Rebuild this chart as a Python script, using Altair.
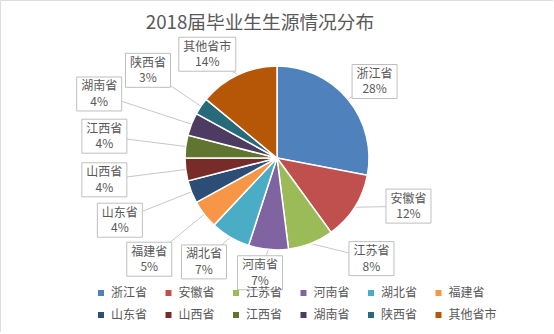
import math
import altair as alt
import pandas as pd

# ---- data ----
provinces = ["浙江省", "安徽省", "江苏省", "河南省", "湖北省", "福建省",
             "山东省", "山西省", "江西省", "湖南省", "陕西省", "其他省市"]
shares = [28, 12, 8, 7, 7, 5, 4, 4, 4, 4, 3, 14]
colors = ["#4F81BD", "#C0504D", "#9BBB59", "#8064A2", "#4BACC6", "#F79646",
          "#2C4D75", "#772C2A", "#5F7530", "#4D3B62", "#276A7C", "#B65708"]
title_text = "2018届毕业生生源情况分布"

# ---- label placement (style): distance from pie centre (px) and angular shift (deg) ----
label_radius = [124, 140, 138, 116, 127, 163, 169, 174, 174, 189, 156, 125]
label_shift = [1.5, -12.3, -21.6, 3, 4.5, -0.6, 0, 0, 0, -1.8, 0, -8.7]

CX, CY, R = 277, 158, 92
FONT = "Noto Sans CJK SC"
TXT = "#595959"

total = sum(shares)
rows = []
start = 0.0
for i, (p, s) in enumerate(zip(provinces, shares)):
    mid = (start + s / 2) / total * 2 * math.pi
    start += s
    a = mid + math.radians(label_shift[i])
    lx = CX + label_radius[i] * math.sin(a)
    ly = CY - label_radius[i] * math.cos(a)
    bw = 12 * len(p) + 9
    bh = 34
    rows.append(dict(
        idx=i, province=p, share=s, pct=f"{s}%",
        lx=lx, ly=ly, ny=ly - 7.5, py=ly + 8,
        bx=lx - bw / 2, bx2=lx + bw / 2, by=ly - bh / 2, by2=ly + bh / 2,
        sx=CX + R * math.sin(mid), sy=CY - R * math.cos(mid),
    ))
df = pd.DataFrame(rows)

color = alt.Color(
    "province:N", title=None,
    scale=alt.Scale(domain=provinces, range=colors),
    legend=alt.Legend(
        orient="none", legendX=95, legendY=287, direction="horizontal",
        columns=6, symbolType="square", symbolSize=36, symbolStrokeWidth=0,
        labelFontSize=12, labelColor=TXT, labelFont=FONT, labelOffset=4,
        columnPadding=14.5, rowPadding=10, padding=0,
    ),
)

base = alt.Chart(df)

leaders = base.mark_rule(color="#C8C8C8", strokeWidth=1).encode(
    x=alt.X("sx:Q", scale=None), y=alt.Y("sy:Q", scale=None),
    x2="lx:Q", y2="ly:Q",
)

pie = base.mark_arc(radius=R, stroke="white", strokeWidth=1.5).encode(
    theta=alt.Theta("share:Q", stack=True),
    order=alt.Order("idx:Q"),
    color=color,
    x=alt.value(CX), y=alt.value(CY),
)

boxes = base.mark_rect(fill="white", stroke="#BFBFBF", strokeWidth=1).encode(
    x=alt.X("bx:Q", scale=None), x2="bx2:Q",
    y=alt.Y("by:Q", scale=None), y2="by2:Q",
)

names = base.mark_text(font=FONT, fontSize=12, color=TXT, align="center", baseline="middle").encode(
    x=alt.X("lx:Q", scale=None), y=alt.Y("ny:Q", scale=None), text="province:N",
)

pcts = base.mark_text(font=FONT, fontSize=12, color=TXT, align="center", baseline="middle").encode(
    x=alt.X("lx:Q", scale=None), y=alt.Y("py:Q", scale=None), text="pct:N",
)

title = alt.Chart(pd.DataFrame({"t": [title_text]})).mark_text(
    font=FONT, fontSize=18.7, color=TXT, align="center", baseline="middle"
).encode(x=alt.value(260), y=alt.value(23), text="t:N")

chart = alt.layer(leaders, pie, boxes, names, pcts, title).properties(
    width=553, height=332,
    autosize=alt.AutoSizeParams(type="none"),
    padding=0,
).configure_view(stroke="#D9D9D9", strokeWidth=1.5).configure(font=FONT)

chart.save("out.html", embed_options={"renderer": "svg", "actions": False})
